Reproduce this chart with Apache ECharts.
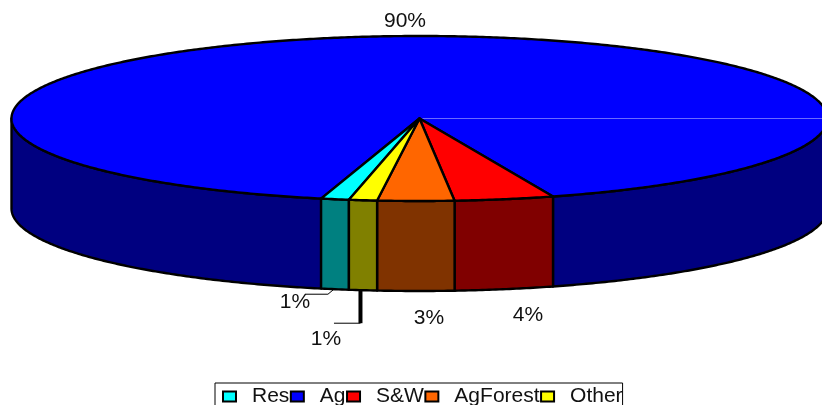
<!DOCTYPE html>
<html>
<head>
<meta charset="utf-8">
<style>html,body{margin:0;padding:0;background:#fff}#chart{width:822px;height:405px}</style>
<script src="https://cdn.jsdelivr.net/npm/echarts@6/dist/echarts.min.js"></script>
</head>
<body>
<div id="chart"></div>
<script>
// Land use shares, in legend order.
const categories = ['Res', 'Ag', 'S&W', 'AgForest', 'Other'];
const shares = [1.1, 90, 3.9, 3.0, 1.1];
const topColors = ['#00ffff', '#0000ff', '#ff0000', '#ff6600', '#ffff00'];
const sideColors = ['#008080', '#000080', '#800000', '#803300', '#808000'];

// Slices run clockwise in this order from the start angle.
const sweepOrder = ['S&W', 'AgForest', 'Other', 'Res', 'Ag'];

// Disc geometry in pixels.
const disc = { cx: 419.5, cy: 118.5, rx: 408, ry: 82.5, depth: 90, startDeg: 70.9 };
const FONT = '"Liberation Sans", Arial, sans-serif';

// Percent label centres and leader lines for each slice.
const labelLayout = {
  'Ag': { x: 405, y: 21 },
  'Res': { x: 295, y: 302, leader: [[-1, 0], [-7, 5], [-30, 5]], width: 1 },
  'Other': { x: 326, y: 339, leader: [[-2.5, 0], [-2.5, 33], [-29, 33]], width: [4, 1] },
  'AgForest': { x: 429, y: 318 },
  'S&W': { x: 528, y: 315 }
};

const total = shares.reduce((a, b) => a + b, 0);
const sweeps = {};
let cursor = disc.startDeg;
sweepOrder.forEach(name => {
  const v = shares[categories.indexOf(name)];
  const extent = v / total * 360;
  sweeps[name] = [cursor, cursor + extent];
  cursor += extent;
});

function rimPoint(deg, drop) {
  const r = deg * Math.PI / 180;
  return [disc.cx + disc.rx * Math.cos(r), disc.cy + disc.ry * Math.sin(r) + (drop || 0)];
}

function arc(from, to, drop) {
  const pts = [];
  const n = Math.max(2, Math.ceil(Math.abs(to - from) * 2));
  for (let i = 0; i <= n; i++) pts.push(rimPoint(from + (to - from) * i / n, drop));
  return pts;
}

const outline = (fill) => ({ fill, stroke: '#000', lineWidth: 2.4, lineJoin: 'round' });

// Only the part of the rim facing the viewer (0-180 degrees, modulo a turn) shows.
function frontRanges(a, b) {
  const ranges = [];
  [0, 360].forEach(off => {
    const lo = Math.max(a, off), hi = Math.min(b, off + 180);
    if (hi > lo) ranges.push([lo, hi]);
  });
  return ranges;
}

function renderSlice(name, idx) {
  return function (params, api) {
    const value = api.value(0);
    const [a, b] = sweeps[name];
    const children = [];

    frontRanges(a, b).forEach(([lo, hi]) => {
      children.push({
        type: 'polygon',
        shape: { points: arc(lo, hi, 0).concat(arc(hi, lo, disc.depth)) },
        style: outline(sideColors[idx])
      });
    });

    children.push({
      type: 'polygon',
      shape: { points: [[disc.cx, disc.cy]].concat(arc(a, b, 0)) },
      style: outline(topColors[idx])
    });

    // Faint seam where the big slice's fill wraps past zero degrees.
    if (name === 'Ag') {
      children.push({
        type: 'line',
        shape: { x1: disc.cx + 3, y1: disc.cy, x2: disc.cx + disc.rx - 2, y2: disc.cy },
        style: { stroke: '#6a6aff', lineWidth: 1 }
      });
    }

    const layout = labelLayout[name];
    if (layout.leader) {
      const mid = rimPoint((a + b) / 2, disc.depth);
      const pts = layout.leader.map(p => [mid[0] + p[0], mid[1] + p[1]]);
      const widths = Array.isArray(layout.width) ? layout.width : [layout.width, layout.width];
      pts.slice(1).forEach((p, i) => {
        const w = i === 0 ? widths[0] : widths[1];
        children.push({
          type: 'line',
          shape: { x1: pts[i][0], y1: pts[i][1], x2: p[0], y2: p[1] },
          style: { stroke: '#000', lineWidth: w }
        });
      });
    }

    children.push({
      type: 'text',
      style: {
        text: Math.round(value) + '%',
        x: layout.x,
        y: layout.y,
        fill: '#111',
        fontSize: 21,
        fontFamily: FONT,
        align: 'center',
        verticalAlign: 'middle'
      }
    });

    return { type: 'group', children };
  };
}

const chart = echarts.init(document.getElementById('chart'), null, { renderer: 'canvas' });
chart.setOption({
  animation: false,
  backgroundColor: '#fff',
  legend: {
    left: 215,
    top: 383,
    orient: 'horizontal',
    selectedMode: false,
    padding: [3, 0, 6, 7],
    borderColor: '#000',
    borderWidth: 1,
    itemGap: 0.5,
    itemWidth: 13,
    itemHeight: 10,
    icon: 'rect',
    itemStyle: { borderColor: '#000', borderWidth: 2 },
    textStyle: { color: '#111', fontSize: 21, fontFamily: FONT, padding: [0, 0, 8, 11] },
    data: categories.map((name, i) => ({ name, itemStyle: { color: topColors[i] } }))
  },
  series: categories.map((name, i) => ({
    type: 'custom',
    name,
    coordinateSystem: 'none',
    z: name === 'Ag' ? 1 : 2,
    silent: true,
    itemStyle: { color: topColors[i] },
    data: [[shares[i]]],
    renderItem: renderSlice(name, i)
  }))
});
</script>
</body>
</html>
